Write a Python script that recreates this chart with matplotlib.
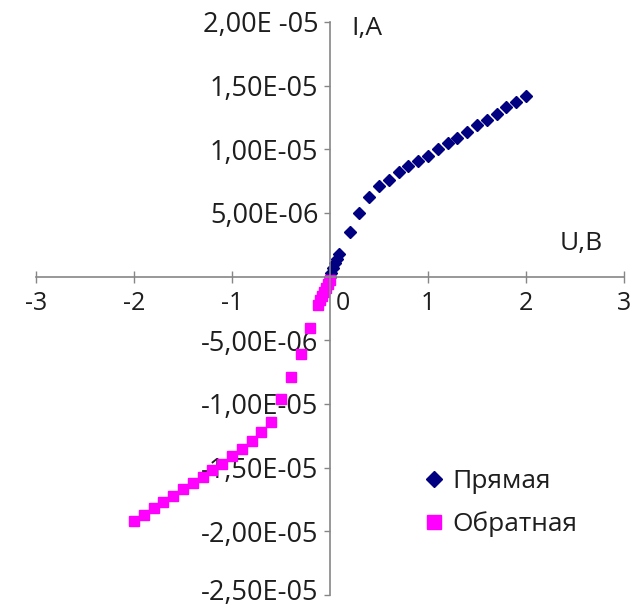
import matplotlib
matplotlib.use("Agg")
import matplotlib.pyplot as plt
import matplotlib.transforms as mtransforms

plt.rcParams['font.family'] = ['Open Sans', 'DejaVu Sans']

# forward branch (Прямая), U in volts, I in amperes
u_fwd = [0.0, 0.01, 0.03, 0.05, 0.07, 0.09,
         0.2, 0.3, 0.4, 0.5, 0.6, 0.7, 0.8, 0.9, 1.0,
         1.1, 1.2, 1.3, 1.4, 1.5, 1.6, 1.7, 1.8, 1.9, 2.0]
i_fwd = [0.0, 0.3e-6, 0.7e-6, 1.1e-6, 1.4e-6, 1.8e-6,
         3.5e-6, 5.0e-6, 6.25e-6, 7.1e-6, 7.6e-6, 8.2e-6, 8.7e-6, 9.1e-6, 9.5e-6,
         1.00e-5, 1.05e-5, 1.09e-5, 1.14e-5, 1.19e-5, 1.23e-5, 1.28e-5, 1.33e-5, 1.37e-5, 1.42e-5]

# reverse branch (Обратная)
u_rev = [0.0, -0.02, -0.04, -0.06, -0.08, -0.1, -0.12,
         -0.2, -0.3, -0.4, -0.5, -0.6, -0.7, -0.8, -0.9, -1.0,
         -1.1, -1.2, -1.3, -1.4, -1.5, -1.6, -1.7, -1.8, -1.9, -2.0]
i_rev = [-0.3e-6, -0.6e-6, -0.9e-6, -1.2e-6, -1.5e-6, -1.8e-6, -2.2e-6,
         -4.0e-6, -6.1e-6, -7.9e-6, -9.6e-6, -1.14e-5, -1.22e-5, -1.29e-5, -1.35e-5, -1.41e-5,
         -1.47e-5, -1.52e-5, -1.57e-5, -1.62e-5, -1.67e-5, -1.72e-5, -1.77e-5, -1.82e-5, -1.87e-5, -1.92e-5]

x_ticks = [-3, -2, -1, 0, 1, 2, 3]
x_labels = ['-3', '-2', '-1', '0', '1', '2', '3']
y_ticks = [2e-5, 1.5e-5, 1e-5, 5e-6, -5e-6, -1e-5, -1.5e-5, -2e-5, -2.5e-5]
y_labels = ['2,00E -05', '1,50E-05', '1,00E-05', '5,00E-06', '-5,00E-06',
            '-1,00E-05', '-1,50E-05', '-2,00E-05', '-2,50E-05']

axis_col = '#868686'
text_col = '#1e1e1e'

fig = plt.figure(figsize=(6.31, 6.09), dpi=100)
ax = fig.add_axes([36 / 631, 14 / 609, 588 / 631, 573 / 609])

ax.plot(u_fwd, i_fwd, linestyle='none', marker='D', ms=6.2,
        color='#000080', label='Прямая')
ax.plot(u_rev, i_rev, linestyle='none', marker='s', ms=7.8,
        color='#ff00ff', label='Обратная')

ax.set_xlim(-3, 3)
ax.set_ylim(-2.5e-5, 2e-5)

ax.spines['left'].set_position(('data', 0))
ax.spines['bottom'].set_position(('data', 0))
ax.spines['top'].set_visible(False)
ax.spines['right'].set_visible(False)
for s in ('left', 'bottom'):
    ax.spines[s].set_color(axis_col)
    ax.spines[s].set_linewidth(1.2)

ax.set_xticks(x_ticks)
ax.set_xticklabels(x_labels)
ax.set_yticks(y_ticks)
ax.set_yticklabels(y_labels)
ax.tick_params(axis='x', direction='inout', length=8, width=1, color=axis_col,
               labelsize=18, labelcolor=text_col, pad=6)
ax.tick_params(axis='y', direction='out', length=4.5, width=1, color=axis_col,
               labelsize=19.5, labelcolor=text_col, pad=4)

# the "0" label sits to the right of the vertical axis
offset = mtransforms.ScaledTranslation(0.13, 0, fig.dpi_scale_trans)
lab0 = ax.xaxis.get_major_ticks()[3].label1
lab0.set_transform(lab0.get_transform() + offset)

# lowest y label is nudged up so it stays inside the picture
up = mtransforms.ScaledTranslation(0, 0.06, fig.dpi_scale_trans)
lab_low = ax.yaxis.get_major_ticks()[-1].label1
lab_low.set_transform(lab_low.get_transform() + up)

fig.text(367 / 631, 1 - 28 / 609, 'I,A', fontsize=19, color=text_col,
         ha='center', va='center')
fig.text(581 / 631, 1 - 243 / 609, 'U,B', fontsize=19, color=text_col,
         ha='center', va='center')

ax.legend(loc='upper left', bbox_to_anchor=(423 / 631, 1 - 469 / 609),
          bbox_transform=fig.transFigure, frameon=False, fontsize=19,
          handlelength=0.8, handletextpad=0.3, labelspacing=0.65,
          borderpad=0, borderaxespad=0, markerscale=1.3, labelcolor=text_col)

fig.savefig('out.png', dpi=100)
